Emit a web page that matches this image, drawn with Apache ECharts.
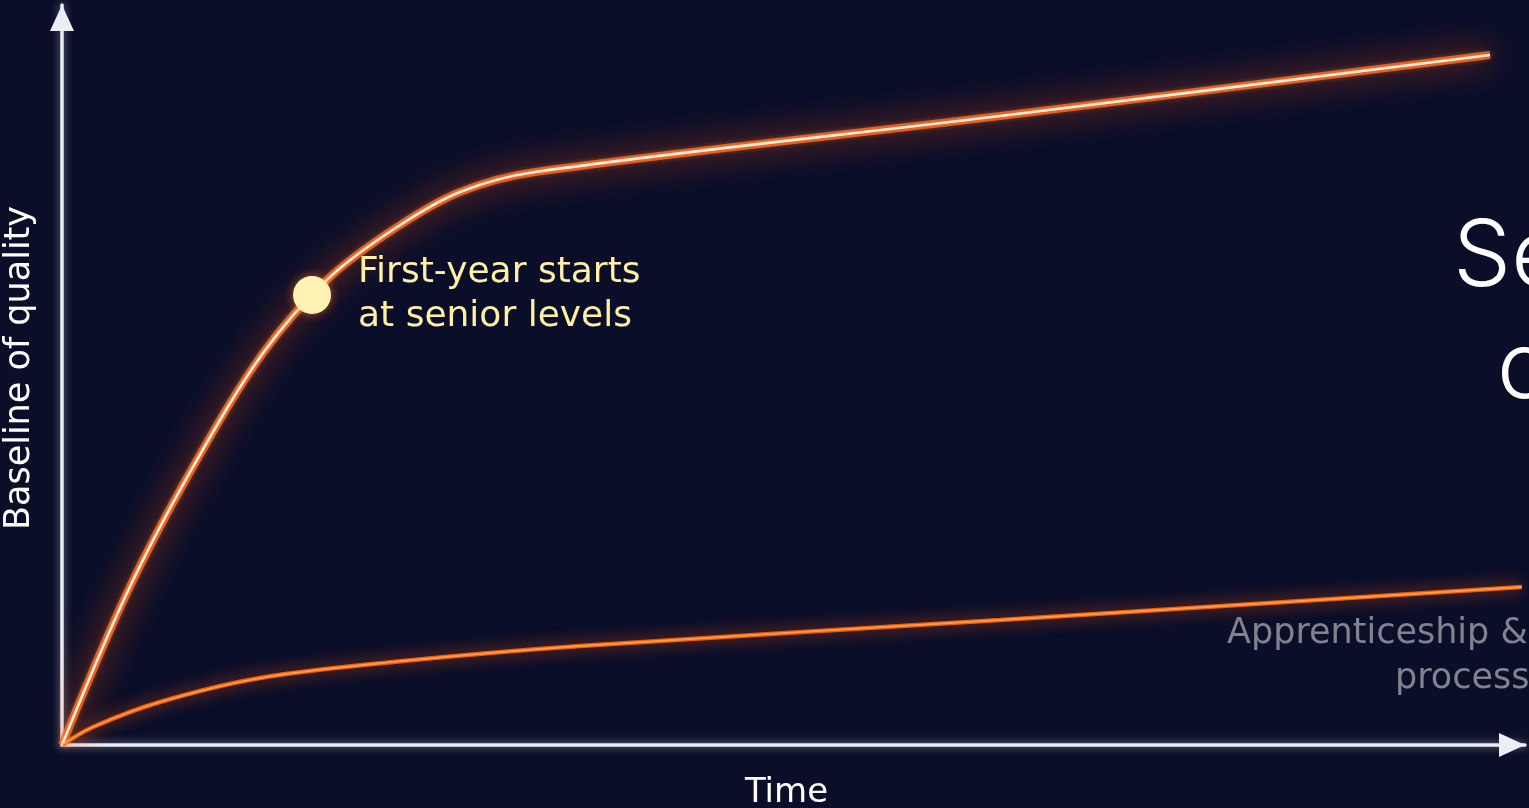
<!DOCTYPE html>
<html>
<head>
<meta charset="utf-8">
<script src="https://cdn.jsdelivr.net/npm/echarts@6/dist/echarts.min.js"></script>
<style>
html,body{margin:0;padding:0;background:#0a0e29;}
#chart{width:1529px;height:808px;}
</style>
</head>
<body>
<div id="chart"></div>
<script>
// Data (x: time, y: baseline of quality)
const aiCurve = [
  [0, 0], [4.44, 20.54], [8.95, 37.57], [13.74, 52.97], [18.32, 63.24], [22.9, 70.0],
  [27.2, 74.73], [32.33, 77.43], [64.11, 85.0], [97.61, 93.24]
];
const apprenticeCurve = [
  [0, 0], [2.12, 2.43], [6.7, 5.81], [13.53, 9.05], [22.62, 11.22], [35.41, 13.38],
  [64.11, 16.89], [99.79, 21.35]
];
const highlightPoint = [[17.09, 60.81]];
const annotationText = 'First-year starts\nat senior levels';
const xAxisName = 'Time';
const yAxisName = 'Baseline of quality';
const rightTitle = ['Se', 'c'];
const rightCaption = ['Apprenticeship &', 'process'];

const chart = echarts.init(document.getElementById('chart'), null, {renderer: 'canvas'});
const FONT = '"DejaVu Sans", Inter, sans-serif';
const TITLE_FONT = 'Inter, "Noto Sans", sans-serif';
const SMOOTH = 0.33;

const axisLine = {
  show: true,
  symbol: ['none', 'triangle'],
  symbolSize: [24, 26],
  symbolOffset: [0, -13],
  lineStyle: {color: '#eceef6', width: 3.5, shadowBlur: 8, shadowColor: 'rgba(255,255,255,0.55)'}
};

chart.setOption({
  backgroundColor: '#0a0e29',
  animation: false,
  grid: {left: 62, right: 4, top: 5, bottom: 63, outerBoundsMode: 'none', containLabel: false},
  xAxis: {
    type: 'value', min: 0, max: 100,
    axisLine: axisLine,
    axisTick: {show: false}, axisLabel: {show: false}, splitLine: {show: false},
    name: xAxisName, nameLocation: 'middle', nameGap: 31,
    nameTextStyle: {color: '#ffffff', fontSize: 34, fontFamily: FONT, verticalAlign: 'top', padding: [0, 14, 0, 0]}
  },
  yAxis: {
    type: 'value', min: 0, max: 100,
    axisLine: axisLine,
    axisTick: {show: false}, axisLabel: {show: false}, splitLine: {show: false},
    name: yAxisName, nameLocation: 'middle', nameGap: 25, nameRotate: 90,
    nameTextStyle: {color: '#ffffff', fontSize: 35, fontFamily: FONT, padding: [0, 0, 0, 14]}
  },
  series: [
    {
      type: 'line', data: aiCurve, smooth: SMOOTH, symbol: 'none', z: 3,
      lineStyle: {color: '#ff5a10', width: 8, opacity: 0.85, shadowBlur: 32, shadowColor: 'rgba(255,80,10,0.95)'}
    },
    {
      type: 'line', data: aiCurve, smooth: SMOOTH, symbol: 'none', z: 4,
      lineStyle: {color: '#ffeedd', width: 2.6, shadowBlur: 6, shadowColor: '#ffa050'}
    },
    {
      type: 'line', data: apprenticeCurve, smooth: SMOOTH, symbol: 'none', z: 3,
      lineStyle: {color: '#ff6210', width: 4.5, opacity: 0.9, shadowBlur: 16, shadowColor: 'rgba(255,90,10,0.85)'}
    },
    {
      type: 'line', data: apprenticeCurve, smooth: SMOOTH, symbol: 'none', z: 4,
      lineStyle: {color: '#ffa040', width: 1.8}
    },
    {
      type: 'scatter', data: highlightPoint, symbolSize: 38, z: 6,
      itemStyle: {color: '#fff2b3', opacity: 1, shadowBlur: 10, shadowColor: 'rgba(255,120,40,0.6)'},
      label: {
        show: true, position: 'right', distance: 27, formatter: annotationText,
        color: '#fff0a6', fontSize: 36, fontFamily: FONT, lineHeight: 44, align: 'left'
      }
    }
  ],
  graphic: [
    {type: 'text', left: 1453, top: 212, style: {text: rightTitle[0], fill: '#ffffff', font: '300 92px ' + TITLE_FONT}},
    {type: 'text', left: 1497, top: 324, style: {text: rightTitle[1], fill: '#ffffff', font: '300 92px ' + TITLE_FONT}},
    {type: 'text', left: 1227, top: 616, style: {text: rightCaption[0], fill: '#80838f', font: '35px ' + FONT}},
    {type: 'text', left: 1395, top: 661, style: {text: rightCaption[1], fill: '#80838f', font: '35px ' + FONT}}
  ]
});
</script>
</body>
</html>
